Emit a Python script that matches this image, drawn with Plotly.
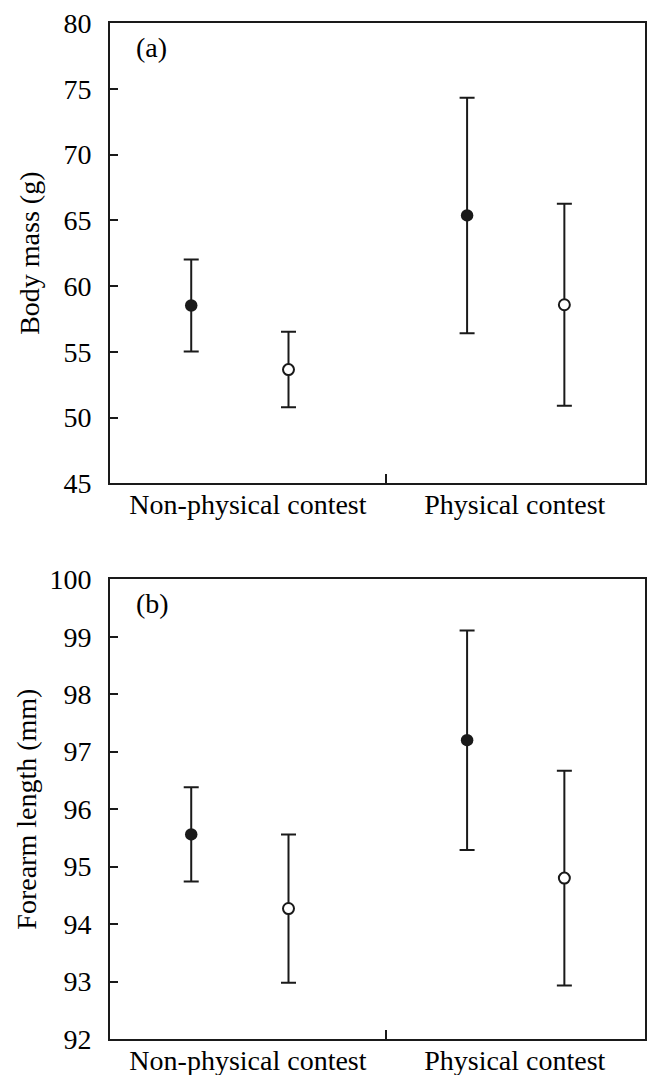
import plotly.graph_objects as go

# ---- data ----
groups = ["Non-physical contest", "Physical contest"]
y_ticks_mass = [45, 50, 55, 60, 65, 70, 75, 80]
y_ticks_forearm = [92, 93, 94, 95, 96, 97, 98, 99, 100]

mass_filled_mean = [58.52, 65.37]
mass_filled_err = [3.50, 8.95]
mass_open_mean = [53.65, 58.58]
mass_open_err = [2.87, 7.68]

forearm_filled_mean = [95.56, 97.20]
forearm_filled_err = [0.82, 1.91]
forearm_open_mean = [94.27, 94.80]
forearm_open_err = [1.29, 1.87]

# ---- layout helpers (positions on a numeric x axis) ----
group_centers = [1.335, 4.171]
offset = 0.5
label_pos = [1.418, 4.161]
divider_pos = 2.834
x_range = [0, 5.5]

FONT = "Liberation Serif, Times New Roman, serif"
INK = "#1a1a1a"

x_filled = [c - offset for c in group_centers]
x_open = [c + offset for c in group_centers]

fig = go.Figure()


def add_pair(filled_m, filled_e, open_m, open_e, xa, ya):
    fig.add_trace(go.Scatter(
        x=x_filled, y=filled_m, mode="markers", xaxis=xa, yaxis=ya,
        marker=dict(size=12.5, color=INK, line=dict(width=0)),
        error_y=dict(type="data", array=filled_e, visible=True,
                     color=INK, thickness=2, width=7.5),
        showlegend=False, hoverinfo="x+y"))
    fig.add_trace(go.Scatter(
        x=x_open, y=open_m, mode="markers", xaxis=xa, yaxis=ya,
        marker=dict(size=11, color="white", line=dict(width=2, color=INK)),
        error_y=dict(type="data", array=open_e, visible=True,
                     color=INK, thickness=2, width=7.5),
        showlegend=False, hoverinfo="x+y"))


add_pair(mass_filled_mean, mass_filled_err, mass_open_mean, mass_open_err, "x", "y")
add_pair(forearm_filled_mean, forearm_filled_err, forearm_open_mean, forearm_open_err, "x2", "y2")

common_x = dict(
    range=x_range, showline=True, mirror=True, linewidth=2, linecolor=INK,
    showgrid=False, zeroline=False,
    tickmode="array", tickvals=label_pos, ticktext=groups, ticks="",
    ticklabelstandoff=-5,
    minor=dict(ticks="inside", tick0=divider_pos, dtick=100, ticklen=9,
               tickwidth=2, tickcolor=INK, showgrid=False),
    tickfont=dict(family=FONT, size=28, color="black"),
    automargin=False, fixedrange=True,
)
common_y = dict(
    showline=True, mirror=True, linewidth=2, linecolor=INK,
    showgrid=False, zeroline=False,
    ticks="inside", ticklen=8, tickwidth=2, tickcolor=INK,
    ticklabelstandoff=11,
    tickfont=dict(family=FONT, size=28, color="black"),
    automargin=True, fixedrange=True,
)

fig.update_layout(
    width=648, height=1075,
    margin=dict(l=110, r=1, t=23, b=36),
    paper_bgcolor="white", plot_bgcolor="white",
    font=dict(family=FONT, size=28, color="black"),
    xaxis=dict(common_x, domain=[0, 1], anchor="y"),
    yaxis=dict(common_y, domain=[0.5469, 1.0], anchor="x",
               range=[45, 80], tickvals=y_ticks_mass,
               title=dict(text="Body mass (g)", standoff=16,
                          font=dict(family=FONT, size=28, color="black"))),
    xaxis2=dict(common_x, domain=[0, 1], anchor="y2"),
    yaxis2=dict(common_y, domain=[0.0, 0.4525], anchor="x2",
                range=[92, 100], tickvals=y_ticks_forearm,
                title=dict(text="Forearm length (mm)", standoff=5,
                           font=dict(family=FONT, size=28, color="black"))),
    annotations=[
        dict(text="(a)", xref="x domain", yref="y domain", x=0.045, y=0.947,
             xanchor="left", yanchor="middle", showarrow=False,
             font=dict(family=FONT, size=28, color="black")),
        dict(text="(b)", xref="x2 domain", yref="y2 domain", x=0.045, y=0.948,
             xanchor="left", yanchor="middle", showarrow=False,
             font=dict(family=FONT, size=28, color="black")),
    ],
)

fig.write_html("out.html",
               config={"displayModeBar": False},
               post_script="document.body.style.margin='0';"
                           "document.body.style.overflow='hidden';")
